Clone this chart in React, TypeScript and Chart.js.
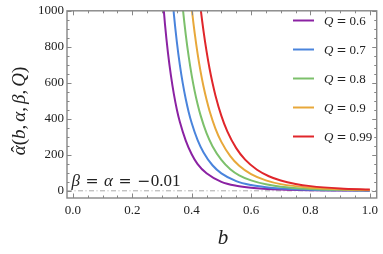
import React, { useEffect, useRef } from "react";
import { Chart, registerables } from "chart.js";

Chart.register(...registerables);

// ---- data ----
const seriesLabels = ["0.6", "0.7", "0.8", "0.9", "0.99"];
const seriesColors = ["#8b22a3", "#4a84dc", "#7cc06b", "#e8a83a", "#e0262b"];

const bQ06 = [0.30, 0.31, 0.32, 0.33, 0.34, 0.35, 0.36, 0.38, 0.40, 0.42, 0.45, 0.50, 0.55, 0.60, 0.70, 0.80, 0.90, 1.00];
const vQ06 = [1124, 926, 768, 641, 537, 452, 383, 279, 203, 148, 97, 50, 28, 17, 7, 3, 1.5, 0.8];

const bQ07 = [0.33, 0.34, 0.35, 0.36, 0.37, 0.38, 0.39, 0.40, 0.42, 0.44, 0.47, 0.50, 0.55, 0.60, 0.65, 0.70, 0.80, 0.90, 1.00];
const vQ07 = [1172, 982, 828, 701, 597, 510, 437, 377, 282, 213, 142, 97, 54, 32, 20, 13, 6, 3, 1.6];

const bQ08 = [0.36, 0.37, 0.38, 0.39, 0.40, 0.41, 0.42, 0.43, 0.45, 0.47, 0.50, 0.53, 0.56, 0.60, 0.65, 0.70, 0.80, 0.90, 1.00];
const vQ08 = [1194, 1016, 868, 745, 641, 554, 481, 419, 320, 248, 172, 120, 86, 58, 36, 23, 10.5, 5.3, 2.9];

const bQ09 = [0.39, 0.40, 0.41, 0.42, 0.43, 0.44, 0.45, 0.46, 0.48, 0.50, 0.53, 0.56, 0.60, 0.65, 0.70, 0.80, 0.90, 1.00];
const vQ09 = [1178, 1015, 877, 761, 662, 578, 507, 445, 346, 272, 193, 139, 93, 58, 37, 17, 8.5, 4.6];

const bQ099 = [0.42, 0.43, 0.44, 0.45, 0.46, 0.47, 0.48, 0.50, 0.52, 0.55, 0.58, 0.62, 0.66, 0.70, 0.75, 0.80, 0.90, 1.00];
const vQ099 = [1165, 1014, 886, 776, 681, 600, 530, 416, 330, 237, 173, 117, 81, 57, 38, 26, 13, 7];

const seriesB = [bQ06, bQ07, bQ08, bQ09, bQ099];
const seriesV = [vQ06, vQ07, vQ08, vQ09, vQ099];

const xTicks = [0, 0.2, 0.4, 0.6, 0.8, 1.0];
const yTicks = [0, 200, 400, 600, 800, 1000];
const xMinorStep = 0.05;
const yMinorStep = 50;
const xMin = -0.02;
const xMax = 1.0233;
const yMin = -40;
const yMax = 1000;
const refLineValue = 0;

const annotationParts: [string, string][] = [
  ["β", "i"], ["=", "m"], ["α", "i"], ["=", "m"], ["−", "m"], ["0.01", "n"],
];

const SERIF = '"Liberation Serif", "Times New Roman", serif';
const MATH = '"DejaVu Serif", serif';

function fontFor(kind: string, size: number) {
  if (kind === "i") return `italic ${size}px ${SERIF}`;
  if (kind === "m") return `${size * 0.92}px ${MATH}`;
  return `${size}px ${SERIF}`;
}

function drawRich(ctx: CanvasRenderingContext2D, parts: [string, string][], x: number, y: number, size: number, gap: number) {
  let cx = x;
  parts.forEach(([t, k], i) => {
    ctx.font = fontFor(k, size);
    ctx.fillText(t, cx, y);
    cx += ctx.measureText(t).width;
    if (i < parts.length - 1) {
      const next = parts[i + 1][1];
      if (k === "m" && t === "−") cx += 0.5;
      else if (k === "m" || next === "m") cx += gap;
    }
  });
}

const framePlugin = {
  id: "mmaFrame",
  afterDraw(chart: any) {
    const ctx: CanvasRenderingContext2D = chart.ctx;
    const { left, right, top, bottom } = chart.chartArea;
    const xs = chart.scales.x;
    const ys = chart.scales.y;
    ctx.save();

    // frame
    ctx.strokeStyle = "#868686";
    ctx.lineWidth = 1.4;
    ctx.strokeRect(left, top, right - left, bottom - top);

    // ticks
    ctx.lineWidth = 1;
    const majorLen = 4.5;
    const minorLen = 2.5;
    const isMajor = (v: number, arr: number[]) => arr.some((m) => Math.abs(m - v) < 1e-6);
    ctx.beginPath();
    for (let v = 0; v <= 1.0001; v += xMinorStep) {
      const vv = Math.round(v * 1000) / 1000;
      const px = Math.round(xs.getPixelForValue(vv)) + 0.5;
      const len = isMajor(vv, xTicks) ? majorLen : minorLen;
      ctx.moveTo(px, bottom);
      ctx.lineTo(px, bottom - len);
      ctx.moveTo(px, top);
      ctx.lineTo(px, top + len);
    }
    for (let v = 0; v <= yMax + 0.01; v += yMinorStep) {
      const py = Math.round(ys.getPixelForValue(v)) + 0.5;
      const len = isMajor(v, yTicks) ? majorLen : minorLen;
      ctx.moveTo(left, py);
      ctx.lineTo(left + len, py);
      ctx.moveTo(right, py);
      ctx.lineTo(right - len, py);
    }
    ctx.stroke();

    // legend
    ctx.fillStyle = "#222";
    ctx.textBaseline = "middle";
    const legTop = 20.5;
    const legStep = 29;
    seriesLabels.forEach((lab, i) => {
      const y = legTop + i * legStep;
      ctx.strokeStyle = seriesColors[i];
      ctx.lineWidth = 2;
      ctx.beginPath();
      ctx.moveTo(293, y);
      ctx.lineTo(314, y);
      ctx.stroke();
      drawRich(ctx, [["Q", "i"], ["=", "m"], [lab, "n"]], 324, y + 1, 13, 3);
    });

    // annotation text
    ctx.textBaseline = "alphabetic";
    drawRich(ctx, annotationParts, 71.5, ys.getPixelForValue(refLineValue) - 4.5, 17, 5.5);

    // axis titles
    ctx.textBaseline = "middle";
    ctx.textAlign = "left";
    ctx.font = `italic 21px ${SERIF}`;
    const bw = ctx.measureText("b").width;
    ctx.fillText("b", 223 - bw / 2, 238);

    const yParts: [string, string][] = [
      ["α", "i"], ["(", "n"], ["b", "i"], [",", "n"], ["α", "i"], [",", "n"], ["β", "i"], [",", "n"], ["Q", "i"], [")", "n"],
    ];
    ctx.save();
    ctx.translate(20, 111);
    ctx.rotate(-Math.PI / 2);
    const size = 19;
    const sp = 3;
    let w = 0;
    yParts.forEach(([t, k]) => {
      ctx.font = fontFor(k, size);
      w += ctx.measureText(t).width + (t === "," ? sp : 0);
    });
    let cx = -w / 2;
    yParts.forEach(([t, k], i) => {
      ctx.font = fontFor(k, size);
      ctx.fillText(t, cx, 0);
      const tw = ctx.measureText(t).width;
      if (i === 0) {
        // circumflex accent over the first alpha
        ctx.font = `${size}px ${SERIF}`;
        ctx.textAlign = "center";
        ctx.fillText("ˆ", cx + tw / 2 + 1, -1);
        ctx.textAlign = "left";
      }
      cx += tw + (t === "," ? sp : 0);
    });
    ctx.restore();

    ctx.restore();
  },
};

export default function App() {
  const canvasRef = useRef<HTMLCanvasElement | null>(null);

  useEffect(() => {
    document.body.style.margin = "0";
    const canvas = canvasRef.current;
    if (!canvas) return;

    const datasets: any[] = seriesLabels.map((lab, i) => ({
      label: `Q = ${lab}`,
      data: seriesB[i].map((b, j) => ({ x: b, y: seriesV[i][j] })),
      borderColor: seriesColors[i],
      backgroundColor: seriesColors[i],
      borderWidth: 2,
      pointRadius: 0,
      fill: false,
      cubicInterpolationMode: "monotone",
      clip: 0,
      order: seriesLabels.length - i,
    }));
    datasets.push({
      label: "ref",
      data: [{ x: xMin, y: refLineValue }, { x: xMax, y: refLineValue }],
      borderColor: "#a8a8a8",
      borderWidth: 1,
      borderDash: [5, 2.5, 1, 2.5],
      pointRadius: 0,
      fill: false,
      clip: 0,
      order: 10,
    });

    const chart = new Chart(canvas, {
      type: "line",
      data: { datasets },
      options: {
        animation: false,
        responsive: false,
        maintainAspectRatio: false,
        parsing: false as any,
        layout: { padding: { left: 0, right: 3, top: 6, bottom: 0 } },
        plugins: {
          legend: { display: false },
          tooltip: { enabled: false },
        },
        scales: {
          x: {
            type: "linear",
            min: xMin,
            max: xMax,
            grid: { display: false, drawTicks: false },
            border: { display: false },
            afterBuildTicks: (s: any) => {
              s.ticks = xTicks.map((v) => ({ value: v }));
            },
            afterFit: (s: any) => {
              s.height = 56;
            },
            ticks: {
              padding: 5,
              maxRotation: 0,
              autoSkip: false,
              color: "#222",
              font: { family: SERIF, size: 13 },
              callback: (v: any) => Number(v).toFixed(1),
            },
          },
          y: {
            type: "linear",
            min: yMin,
            max: yMax,
            grid: { display: false, drawTicks: false },
            border: { display: false },
            afterBuildTicks: (s: any) => {
              s.ticks = yTicks.map((v) => ({ value: v }));
            },
            afterFit: (s: any) => {
              s.width = 67;
            },
            ticks: {
              padding: 3,
              autoSkip: false,
              color: "#222",
              font: { family: SERIF, size: 13 },
              callback: (v: any) => String(v),
            },
          },
        },
      },
      plugins: [framePlugin],
    });

    return () => chart.destroy();
  }, []);

  return (
    <div style={{ width: 383, height: 254, background: "#fff" }}>
      <canvas ref={canvasRef} width={383} height={254} style={{ display: "block" }} />
    </div>
  );
}
